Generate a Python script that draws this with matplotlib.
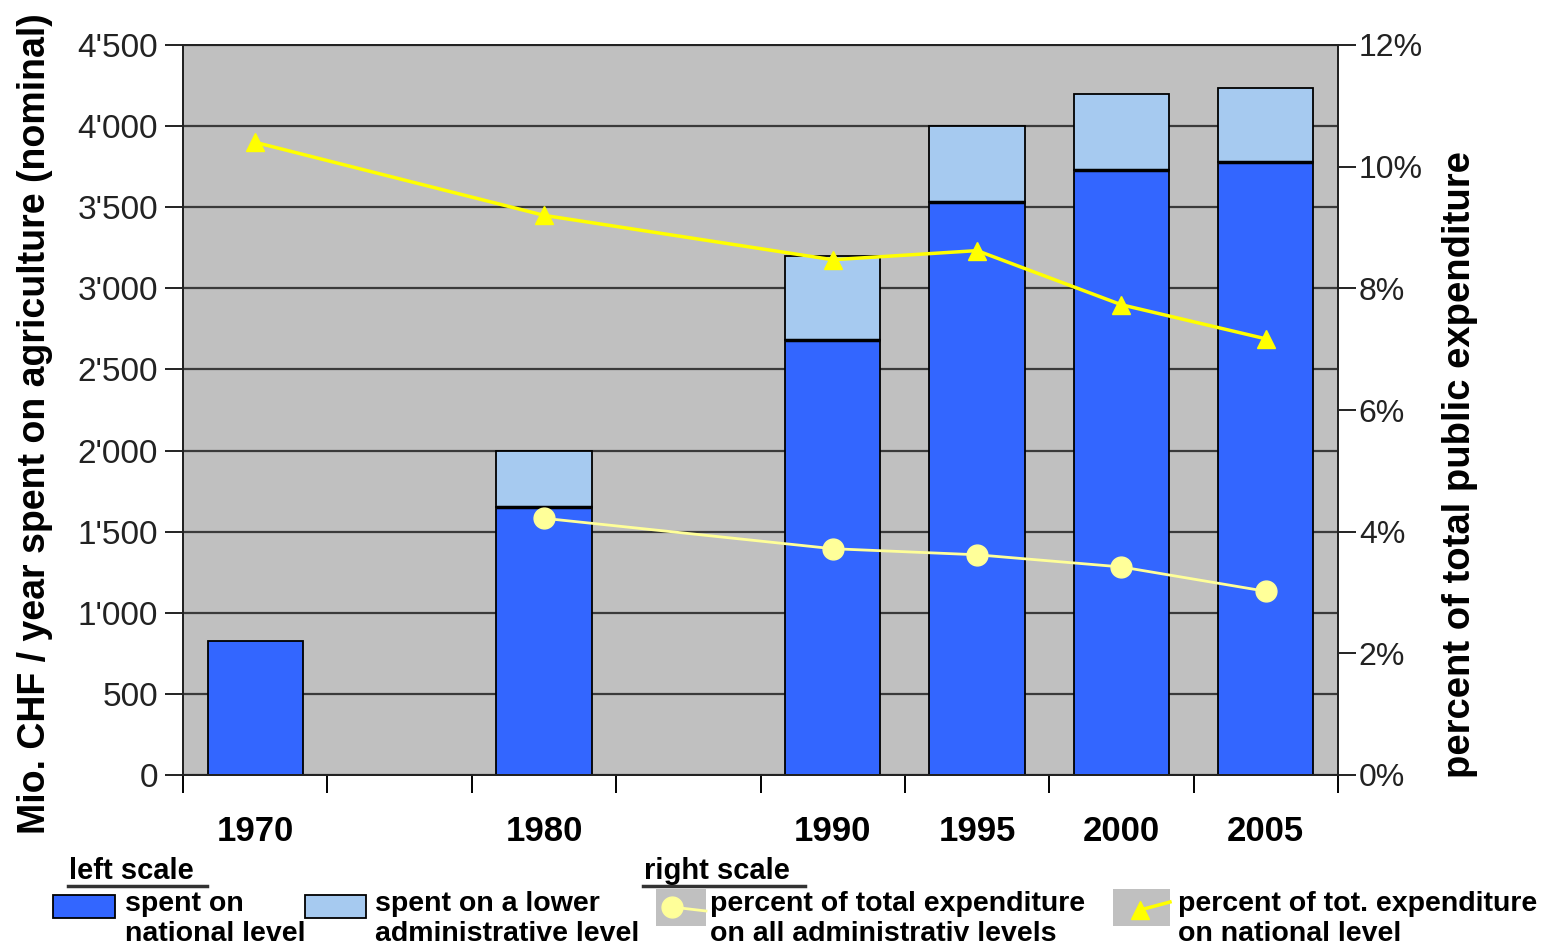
import matplotlib
matplotlib.use('Agg')
import matplotlib.pyplot as plt
from matplotlib.lines import Line2D
from matplotlib.patches import Rectangle

plt.rcParams['font.family'] = ['Liberation Sans', 'DejaVu Sans']

# data
years = [1970, 1980, 1990, 1995, 2000, 2005]
national = [825, 1650, 2680, 3530, 3730, 3780]
lower = [0, 350, 520, 470, 470, 455]
pct_national = [10.4, 9.2, 8.47, 8.62, 7.73, 7.17]
years_all = [1980, 1990, 1995, 2000, 2005]
pct_all = [4.22, 3.72, 3.62, 3.42, 3.02]
left_ticks = list(range(0, 4501, 500))
left_labels = ["0", "500", "1'000", "1'500", "2'000", "2'500", "3'000", "3'500", "4'000", "4'500"]
right_ticks = [0, 2, 4, 6, 8, 10, 12]

W, H = 1542, 948
fig = plt.figure(figsize=(W / 100, H / 100), dpi=100)


def px(x, y):
    return x / W, 1 - y / H


ax = fig.add_axes([183 / W, 1 - 775 / H, (1338 - 183) / W, (775 - 45) / H])
ax.set_facecolor('#C0C0C0')
ax.set_axisbelow(True)
ax.yaxis.grid(True, color='#3a3a3a', lw=1.6)

bw = 3.3
ax.bar(years, national, width=bw, color='#3366FF', edgecolor='black', lw=1.3, zorder=2)
low_years = [y for y, v in zip(years, lower) if v > 0]
low_vals = [v for v in lower if v > 0]
low_bot = [n for n, v in zip(national, lower) if v > 0]
ax.bar(low_years, low_vals, bottom=low_bot, width=bw, color='#A6CAF0',
       edgecolor='black', lw=1.3, zorder=2)
# thicker separation line
ax.hlines(low_bot, [y - bw / 2 for y in low_years], [y + bw / 2 for y in low_years],
          color='black', lw=2.5, zorder=3)

ax.set_xlim(1967.5, 2007.5)
ax.set_ylim(0, 4500)
ax.set_yticks(left_ticks)
ax.set_yticklabels(left_labels)
ax.tick_params(axis='y', direction='out', length=13, width=1.4, labelsize=24, pad=5,
               colors='#222222')
ax.set_xticks(years)
ax.set_xticklabels([str(y) for y in years], fontweight='bold', fontsize=25)
ax.tick_params(axis='x', length=0, pad=29)
ax.set_xticks([1967.5 + 5 * k for k in range(9)], minor=True)
ax.tick_params(axis='x', which='minor', direction='out', length=13, width=1.4)
for s in ax.spines.values():
    s.set_color('#222222')
    s.set_linewidth(1.4)

ax2 = ax.twinx()
ax2.set_ylim(0, 12)
ax2.set_yticks(right_ticks)
ax2.set_yticklabels([f"{t}%" for t in right_ticks])
ax2.tick_params(axis='y', direction='out', length=13, width=1.4, labelsize=23, pad=2,
                colors='#222222')
ax2.plot(years, pct_national, color='#FFFF00', lw=2.5, marker='^', ms=13,
         markeredgecolor='#FFFF00', zorder=4)
ax2.plot(years_all, pct_all, color='#FFFF99', lw=2, marker='o', ms=15,
         markeredgecolor='#FFFF99', zorder=4)
for s in ax2.spines.values():
    s.set_color('#222222')
    s.set_linewidth(1.4)

fig.text(*px(35, 424), "Mio. CHF / year spent on agriculture (nominal)", rotation=90,
         ha='center', va='center', fontsize=27, fontweight='bold')
fig.text(*px(1460, 465), "percent of total public expenditure", rotation=90,
         ha='center', va='center', fontsize=27.5, fontweight='bold')

# legend drawn by hand
fs = 20.5
for x0, x1, label in [(68, 207, "left scale"), (643, 805, "right scale")]:
    fig.text(*px(x0 + 1, 879), label, fontsize=fs + 0.5, fontweight='bold', ha='left',
             va='baseline')
    fig.add_artist(Line2D([x0 / W, x1 / W], [1 - 886 / H] * 2, color='#333333', lw=2.5))

fig.add_artist(Rectangle(px(53, 918), 62 / W, 23 / H, facecolor='#3366FF',
                         edgecolor='black', lw=1.3))
fig.add_artist(Rectangle(px(305, 918), 61 / W, 23 / H, facecolor='#A6CAF0',
                         edgecolor='black', lw=1.3))
fig.add_artist(Rectangle(px(656, 926), 50 / W, 37 / H, facecolor='#C0C0C0', lw=0))
fig.add_artist(Line2D([672 / W, 706 / W], [1 - 907 / H, 1 - 911 / H], color='#FFFF99', lw=2))
fig.add_artist(Line2D([672 / W], [1 - 907 / H], marker='o', ms=15, color='#FFFF99'))
fig.add_artist(Rectangle(px(1113, 926), 57 / W, 37 / H, facecolor='#C0C0C0', lw=0))
fig.add_artist(Line2D([1140 / W, 1170 / W], [1 - 910 / H, 1 - 902 / H], color='#FFFF00', lw=2.5))
fig.add_artist(Line2D([1140 / W], [1 - 910 / H], marker='^', ms=13, color='#FFFF00'))

legend_texts = [(125, "spent on\nnational level"),
                (375, "spent on a lower\nadministrative level"),
                (710, "percent of total expenditure\non all administrativ levels"),
                (1178, "percent of tot. expenditure\non national level")]
for x, t in legend_texts:
    fig.text(*px(x, 891), t, fontsize=fs, fontweight='bold', ha='left', va='top',
             linespacing=1.2)

fig.savefig('out.png', dpi=100)
